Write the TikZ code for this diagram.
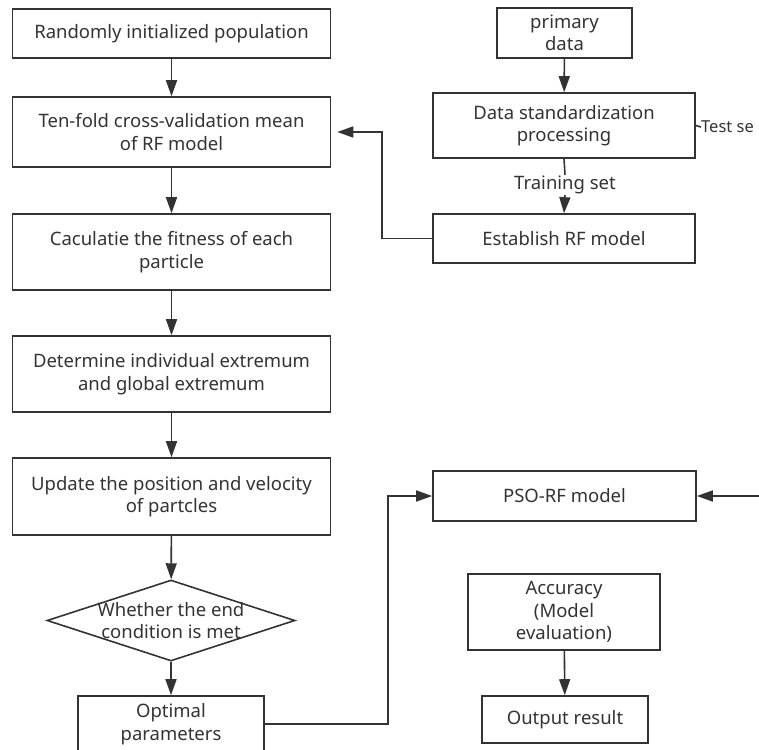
\documentclass[tikz,border=0pt]{standalone}
\usepackage{fontspec}
\setmainfont{Noto Sans}
\usetikzlibrary{arrows.meta,shapes.geometric}
\definecolor{ln}{HTML}{333333}
\definecolor{tx}{HTML}{333333}
\tikzset{
  fnt/.style={font=\fontsize{18.5}{22.5}\selectfont},
  box/.style={draw=ln, line width=1.6pt, rectangle, align=center, inner sep=0pt, text=tx, fnt},
  lbl/.style={text=tx, inner sep=1pt, fnt},
  arr/.style={draw=ln, line width=1.6pt, -{Triangle[length=16pt,width=11pt]}},
  ln/.style={draw=ln, line width=1.6pt}
}
\begin{document}
\begin{tikzpicture}[x=1pt,y=-1pt]
\useasboundingbox (0,0) rectangle (759,749);
% left column
\node[box, minimum width=318pt, minimum height=49pt] (b1) at (171.5,33.5) {Randomly initialized population};
\node[box, minimum width=318pt, minimum height=70pt] (b2) at (171.5,132) {Ten-fold cross-validation mean\\of RF model};
\node[box, minimum width=318pt, minimum height=76pt] (b3) at (171.5,252) {Caculatie the fitness of each\\particle};
\node[box, minimum width=318pt, minimum height=76pt] (b4) at (171.5,374) {Determine individual extremum\\and global extremum};
\node[box, minimum width=318pt, minimum height=77pt] (b5) at (171.5,496.5) {Update the position and velocity\\of partcles};
\node[draw=ln, line width=1.6pt, diamond, minimum width=248pt, minimum height=81pt, inner sep=0pt] (d) at (171,620.5) {};
\node[lbl, align=center] (dt) at (171,620.5) {Whether the end\\condition is met};
\node[box, minimum width=186pt, minimum height=56pt] (opt) at (171,724) {Optimal\\parameters};
% right column
\node[box, minimum width=135pt, minimum height=50pt] (pd) at (564.5,33) {primary\\data};
\node[box, minimum width=262pt, minimum height=65pt] (std) at (564,125.5) {Data standardization\\processing};
\node[box, minimum width=262pt, minimum height=49pt] (est) at (564,238.5) {Establish RF model};
\node[box, minimum width=263pt, minimum height=50pt] (pso) at (564.5,496) {PSO-RF model};
\node[box, minimum width=192pt, minimum height=76pt] (acc) at (564,612) {Accuracy\\(Model\\evaluation)};
\node[box, minimum width=166pt, minimum height=47pt] (out) at (565,719.5) {Output result};
\node[lbl] (tr) at (565,185) {Training set};
\node[lbl, anchor=west, inner sep=0pt, font=\fontsize{16.5}{20}\selectfont] (ts) at (701,127) {Test se};
\coordinate (rin) at (762,496);
% connectors
\draw[arr] (b1) -- (b2);
\draw[arr] (b2) -- (b3);
\draw[arr] (b3) -- (b4);
\draw[arr] (b4) -- (b5);
\draw[arr] (b5) -- (d);
\draw[arr] (d) -- (opt);
\draw[arr] (pd) -- (std);
\draw[ln] (std.south) -- (tr.north);
\draw[arr] (tr.south) -- (est.north);
\draw[ln] (std.east) -- (ts.west);
\draw[arr, shorten >=6pt] (est.west) -- ++(-50,0) |- (b2.east);
\draw[arr] (opt.east) -- ++(123,0) |- (pso.west);
\draw[arr] (rin) -- (pso.east);
\draw[arr] (acc) -- (out);
\end{tikzpicture}
\end{document}
